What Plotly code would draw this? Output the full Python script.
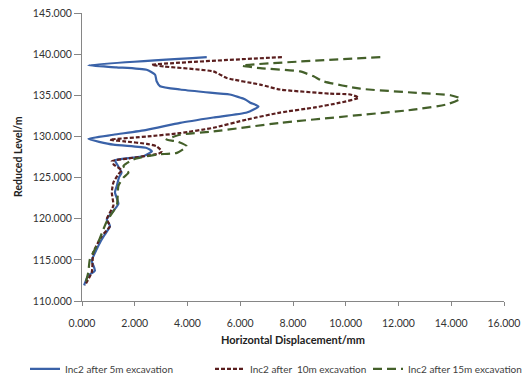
import plotly.graph_objects as go

# Series: Inc2 after 5m excavation
lvl_5m = [139.64, 138.65, 138.4, 138.1, 137.5, 136.7, 136.1, 135.7, 135.4, 135.1, 134.5, 134.1, 133.65,
          132.9, 132.3, 131.65, 130.8, 130.2, 129.7, 129.0, 128.6, 128.2, 127.6, 127.1, 126.5, 125.6,
          125.0, 124.0, 123.2, 121.8, 121.0, 119.9, 119.1, 118.1, 117.2, 116.3, 114.9, 113.7, 113.1,
          112.5, 111.9]
disp_5m = [4.73, 0.24, 1.3, 2.45, 2.77, 2.83, 2.96, 3.72, 4.6, 5.6, 6.19, 6.38, 6.69,
           6.25, 4.98, 3.72, 2.45, 1.19, 0.24, 1.19, 2.45, 2.65, 2.33, 1.25, 1.35, 1.5,
           1.4, 1.32, 1.25, 1.38, 1.2, 0.94, 1.06, 0.87, 0.7, 0.56, 0.37, 0.49, 0.24,
           0.15, 0.08]

# Series: Inc2 after 10m excavation
lvl_10m = [139.64, 138.7, 138.5, 137.9, 137.1, 136.3, 135.7, 135.2, 135.1, 134.7, 134.1, 133.5, 132.9,
           132.05, 131.05, 130.4, 130.0, 129.6, 129.4, 129.1, 128.8, 128.2, 127.9, 127.3, 127.0, 126.6,
           125.9, 125.4, 124.4, 123.2, 121.6, 119.95, 119.1, 117.9, 115.9, 113.5, 111.9]
disp_10m = [7.58, 2.65, 3.1, 4.98, 5.49, 6.75, 7.51, 9.41, 10.17, 10.49, 9.79, 8.78, 7.51,
            6.25, 4.98, 3.72, 2.5, 1.06, 1.6, 2.45, 2.83, 3.02, 2.9, 1.7, 1.13, 1.2,
            1.5, 1.38, 1.19, 1.13, 1.19, 0.94, 1.06, 0.75, 0.43, 0.37, 0.11]

# Series: Inc2 after 15m excavation
lvl_15m = [139.64, 138.6, 138.3, 137.9, 137.3, 136.7, 135.8, 135.3, 135.0, 134.6, 133.9, 133.25, 132.45,
           131.65, 130.6, 130.2, 129.6, 129.4, 128.8, 128.0, 127.8, 127.2, 126.4, 125.6, 125.0, 124.0,
           121.6, 119.7, 118.7, 116.7, 115.1, 113.5, 111.9]
disp_15m = [11.31, 6.06, 6.75, 8.27, 8.78, 9.15, 10.55, 12.7, 13.97, 14.35, 13.84, 12.56, 10.05,
            7.51, 4.98, 3.72, 3.2, 3.6, 3.97, 3.6, 2.83, 1.95, 1.57, 1.76, 1.57, 1.38,
            1.32, 0.94, 0.81, 0.56, 0.30, 0.24, 0.11]

x_ticks = [0, 2, 4, 6, 8, 10, 12, 14, 16]
y_ticks = [110, 115, 120, 125, 130, 135, 140, 145]

FONT = "Lato, 'Open Sans', sans-serif"

fig = go.Figure()
fig.add_trace(go.Scatter(x=disp_5m, y=lvl_5m, mode="lines", name="Inc2 after 5m excavation",
                         legend="legend",
                         line=dict(color="#3A62A8", width=2.2, shape="spline", smoothing=0.5)))
fig.add_trace(go.Scatter(x=disp_10m, y=lvl_10m, mode="lines", name="Inc2 after  10m excavation",
                         legend="legend2",
                         line=dict(color="#5A1E1E", width=2.2, dash="4px,2px", shape="spline", smoothing=0.5)))
fig.add_trace(go.Scatter(x=disp_15m, y=lvl_15m, mode="lines", name="Inc2 after 15m excavation",
                         legend="legend3",
                         line=dict(color="#44602A", width=2.2, dash="9px,5px", shape="spline", smoothing=0.5)))

leg_common = dict(xref="container", yref="paper", y=-0.236, yanchor="middle", xanchor="left",
                  font=dict(size=10, color="#404040"), bgcolor="rgba(0,0,0,0)", borderwidth=0)

fig.update_layout(
    width=530, height=378,
    margin=dict(l=82, r=26, t=13, b=77, autoexpand=False),
    paper_bgcolor="white", plot_bgcolor="white",
    font=dict(family=FONT, size=10, color="#333333"),
    showlegend=True,
    legend=dict(x=25 / 530, **leg_common),
    legend2=dict(x=210 / 530, **leg_common),
    legend3=dict(x=368 / 530, **leg_common),
    xaxis=dict(range=[0, 16], tickvals=x_ticks, ticktext=[f"{v:.3f}" for v in x_ticks],
               showgrid=False, zeroline=False, showline=True, linecolor="#868686", linewidth=1,
               ticks="outside", ticklen=4, tickcolor="#868686", ticklabelstandoff=8,
               tickfont=dict(size=10.5), automargin=False,
               title=dict(text="<b>Horizontal Displacement/mm</b>", standoff=8,
                          font=dict(size=11, color="#222222"))),
    yaxis=dict(range=[110, 145], tickvals=y_ticks, ticktext=[f"{v:.3f}" for v in y_ticks],
               showgrid=False, zeroline=False, showline=True, linecolor="#868686", linewidth=1,
               ticks="outside", ticklen=7, tickcolor="#868686",
               tickfont=dict(size=10.5), automargin=False),
    annotations=[dict(text="<b>Reduced Level/m</b>", textangle=-90, xref="paper", yref="paper",
                      x=(18 - 82) / 422, y=0.5, xanchor="center", yanchor="middle",
                      showarrow=False, font=dict(size=10.5, color="#222222"))],
)

fig.write_html("out.html", post_script="document.body.style.margin='0';",
               config={"displayModeBar": False})
